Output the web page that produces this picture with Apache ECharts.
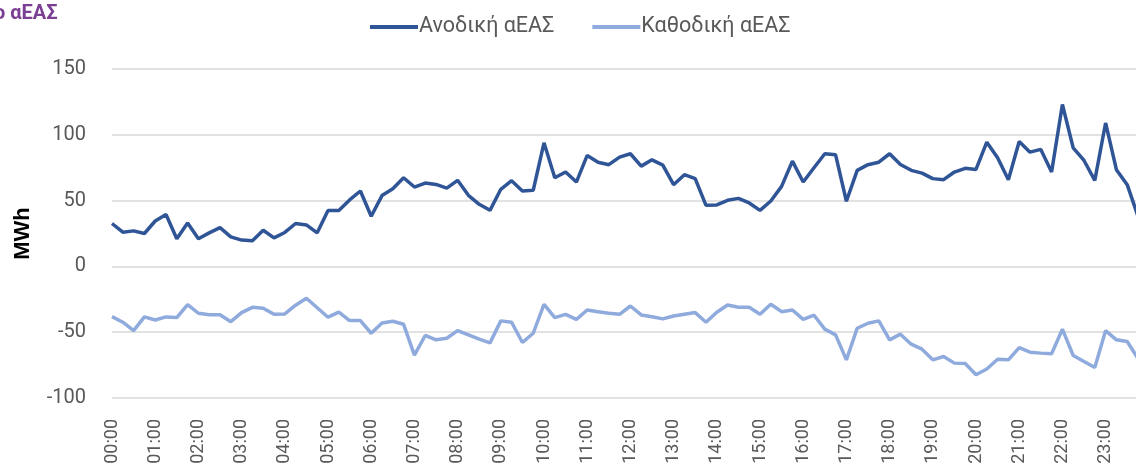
<!DOCTYPE html>
<html>
<head>
<meta charset="utf-8">
<script src="https://cdn.jsdelivr.net/npm/echarts@6/dist/echarts.min.js"></script>
<style>
html,body{margin:0;padding:0;overflow:hidden;background:#fff;}
#chart{width:1200px;height:469px;}
</style>
</head>
<body>
<div id="chart"></div>
<script>
const categories = [
"00:00","00:15","00:30","00:45","01:00","01:15","01:30","01:45",
"02:00","02:15","02:30","02:45","03:00","03:15","03:30","03:45",
"04:00","04:15","04:30","04:45","05:00","05:15","05:30","05:45",
"06:00","06:15","06:30","06:45","07:00","07:15","07:30","07:45",
"08:00","08:15","08:30","08:45","09:00","09:15","09:30","09:45",
"10:00","10:15","10:30","10:45","11:00","11:15","11:30","11:45",
"12:00","12:15","12:30","12:45","13:00","13:15","13:30","13:45",
"14:00","14:15","14:30","14:45","15:00","15:15","15:30","15:45",
"16:00","16:15","16:30","16:45","17:00","17:15","17:30","17:45",
"18:00","18:15","18:30","18:45","19:00","19:15","19:30","19:45",
"20:00","20:15","20:30","20:45","21:00","21:15","21:30","21:45",
"22:00","22:15","22:30","22:45","23:00","23:15","23:30","23:45"
];
const upward = [
32.6,26,27,25,34.5,39.4,21,33,21,25.5,29.5,22.4,20,19.4,27.5,21.7,
25.8,32.6,31.5,25.5,42.4,42.4,50.5,57.3,38.1,53.8,59,67.4,60.3,63.3,62.3,59.5,
65.4,54,47.2,42.6,58.6,65.1,57.3,57.8,93.9,67.4,71.7,64.1,84.3,79.2,77.3,83,
85.6,76.2,81,77,62.1,69.7,66.7,46.4,46.7,50.2,51.7,48.2,42.6,49.7,60.8,80,
64.1,75,85.6,84.8,49.5,73,77.3,79.2,85.6,77.5,73,70.9,66.7,65.9,71.7,74.5,
73.7,94.4,82.6,65.9,94.9,86.8,88.9,71.7,123,90.1,80.5,65.4,109,73.5,62.1,38
];
const downward = [
-38.2,-42.4,-48.8,-38.4,-40.7,-38.4,-38.9,-29.1,-35.6,-36.7,-36.7,-42,-35.1,-31.1,-31.8,-36.4,
-36.1,-29.5,-24.2,-31.4,-38.6,-34.8,-41.2,-41.2,-50.8,-43,-41.7,-44,-67.4,-52.5,-55.8,-54.6,
-48.8,-52,-55.3,-58.1,-41.4,-42.4,-57.8,-50.8,-28.8,-38.9,-36.4,-40.2,-33.1,-34.4,-35.6,-36.4,
-30.1,-36.9,-38.2,-39.9,-37.7,-36.4,-35.1,-42.4,-34.8,-29.3,-31.1,-31.1,-36.4,-28.8,-34.4,-33.1,
-40.2,-37.1,-47.7,-52,-71,-47,-43.2,-41.4,-55.8,-51.5,-59.1,-62.9,-71,-68.5,-73.5,-73.8,
-82.3,-78,-70.5,-71,-61.7,-65.2,-65.9,-66.4,-47.7,-67.7,-72.3,-76.8,-48.8,-55.8,-57.1,-70
];
const seriesNames = ["Ανοδική αΕΑΣ","Καθοδική αΕΑΣ"];
const yTicks = {min:-100, max:150, interval:50};

const chart = echarts.init(document.getElementById('chart'));
chart.setOption({
  animation:false,
  textStyle:{fontFamily:'Roboto'},
  graphic:[{
    type:'text', left:-6, top:4,
    style:{text:'ο αΕΑΣ', fill:'#7B3F94', font:'bold 20px Roboto'}
  }],
  legend:{
    left:365, top:11,
    icon:'rect', itemWidth:48, itemHeight:4, itemGap:38,
    textStyle:{color:'#595959', fontSize:21.5, fontFamily:'Roboto', padding:[0,0,0,-4]},
    data:seriesNames
  },
  grid:{left:112, top:69, width:1026, height:329, outerBoundsMode:'none', containLabel:false},
  xAxis:{
    type:'category', boundaryGap:false, data:categories,
    axisLine:{show:false}, axisTick:{show:false},
    axisLabel:{interval:3, rotate:90, color:'#595959', fontSize:18, margin:21, fontFamily:'Roboto'},
    splitLine:{show:false}
  },
  yAxis:{
    type:'value', min:yTicks.min, max:yTicks.max, interval:yTicks.interval,
    name:'MWh', nameLocation:'middle', nameRotate:90, nameGap:78,
    nameTextStyle:{fontWeight:'bold', fontSize:22, color:'#000', fontFamily:'Liberation Sans'},
    axisLine:{show:false}, axisTick:{show:false},
    axisLabel:{color:'#595959', fontSize:20, margin:26, fontFamily:'Roboto'},
    splitLine:{lineStyle:{color:'#d9d9d9', width:1.5}}
  },
  series:[
    {name:seriesNames[0], type:'line', data:upward, symbol:'none', lineStyle:{width:3.5, color:'#2F5597'}, itemStyle:{color:'#2F5597'}},
    {name:seriesNames[1], type:'line', data:downward, symbol:'none', lineStyle:{width:3.5, color:'#8FAADC'}, itemStyle:{color:'#8FAADC'}}
  ]
});
</script>
</body>
</html>
